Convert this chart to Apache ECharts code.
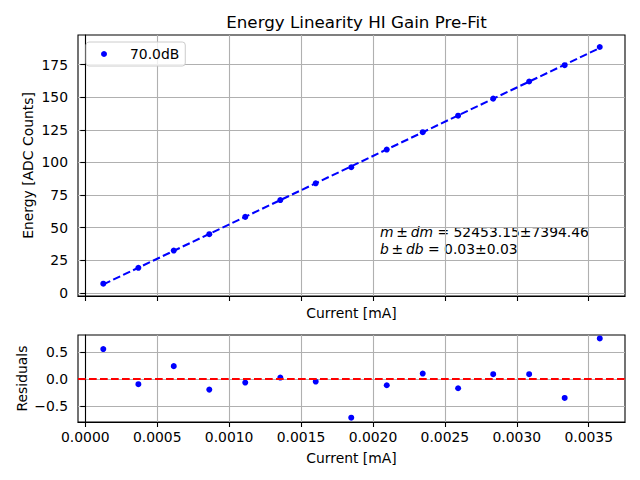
<!DOCTYPE html>
<html>
<head>
<meta charset="utf-8">
<script src="https://cdn.jsdelivr.net/npm/echarts@6/dist/echarts.min.js"></script>
<style>html,body{margin:0;padding:0;background:#fff}#c{width:640px;height:480px}</style>
</head>
<body>
<div id="c"></div>
<script>
// Data
const currents = [0.000125, 0.000369, 0.000615, 0.000862, 0.001112, 0.001356, 0.001602, 0.001849, 0.002096, 0.002346, 0.002592, 0.002836, 0.003086, 0.003333, 0.003577];
const energies = [7.14, 19.29, 32.52, 45.05, 58.29, 71.18, 84.01, 96.30, 109.85, 123.18, 135.81, 148.87, 161.99, 174.50, 188.41];
const residuals = [0.553, -0.099, 0.236, -0.199, -0.068, 0.025, -0.05, -0.72, -0.118, 0.099, -0.174, 0.087, 0.087, -0.354, 0.75];
const fitX = [0.000125, 0.003577];
const fitY = [6.59, 187.65];
const xTicks = [0, 0.0005, 0.001, 0.0015, 0.002, 0.0025, 0.003, 0.0035];
const yTicks = [0, 25, 50, 75, 100, 125, 150, 175];
const resTicks = [-0.5, 0, 0.5];
const seriesName = '70.0dB';
const titleText = 'Energy Linearity HI Gain Pre-Fit';
const fitLines = ['m', '\u2009\u00b1\u2009', 'dm', ' = 52453.15\u00b17394.46'];
const fitLines2 = ['b', '\u2009\u00b1\u2009', 'db', ' = 0.03\u00b10.03'];

const FONT = 'DejaVu Sans';
const FS = 13.9;
const chart = echarts.init(document.getElementById('c'), null, {renderer: 'svg'});

function xAxisCfg(grid, showLabel, nameGap) {
  return {
    type: 'value', gridIndex: grid, min: -0.0000508, max: 0.0037524,
    name: 'Current [mA]', nameLocation: 'middle', nameGap: nameGap,
    nameTextStyle: {fontFamily: FONT, fontSize: FS, color: '#000'},
    axisLine: {show: true, onZero: false, lineStyle: {color: '#000', width: 1.1}},
    axisTick: {show: true, length: 5, customValues: xTicks, lineStyle: {color: '#000', width: 1.1}},
    axisLabel: {show: showLabel, customValues: xTicks, margin: 8, color: '#000', fontFamily: FONT, fontSize: FS,
      formatter: v => v.toFixed(4)},
    splitLine: {show: true, lineStyle: {color: '#b0b0b0', width: 1.1}}
  };
}

const option = {
  animation: false,
  backgroundColor: '#fff',
  title: {
    text: titleText, left: 351.5, top: 8, textAlign: 'center',
    textStyle: {fontFamily: FONT, fontSize: 16.7, fontWeight: 'normal', color: '#000'}
  },
  legend: {
    data: [seriesName], left: 86, top: 42, icon: 'circle', itemWidth: 6, itemHeight: 6,
    padding: [5, 6, 5, 15], borderColor: '#cccccc', borderWidth: 1, borderRadius: 3,
    backgroundColor: 'rgba(255,255,255,0.8)',
    textStyle: {fontFamily: FONT, fontSize: FS, color: '#000', padding: [0, 0, 0, 18]}
  },
  grid: [
    {left: 78, right: 15, top: 35, height: 261, show: true, borderColor: '#000', borderWidth: 1.1, backgroundColor: 'transparent'},
    {left: 78, right: 15, top: 335, height: 87, show: true, borderColor: '#000', borderWidth: 1.1, backgroundColor: 'transparent'}
  ],
  xAxis: [xAxisCfg(0, false, 10), xAxisCfg(1, true, 29)],
  yAxis: [
    {
      type: 'value', gridIndex: 0, min: -2.3, max: 197.6,
      name: 'Energy [ADC Counts]', nameLocation: 'middle', nameGap: 43, nameMoveOverlap: false,
      nameTextStyle: {fontFamily: FONT, fontSize: FS, color: '#000'},
      axisLine: {show: true, lineStyle: {color: '#000', width: 1.1}},
      axisTick: {show: true, length: 5, customValues: yTicks, lineStyle: {color: '#000', width: 1.1}},
      axisLabel: {customValues: yTicks, margin: 10, color: '#000', fontFamily: FONT, fontSize: FS, formatter: v => String(Math.round(v))},
      splitLine: {show: true, lineStyle: {color: '#b0b0b0', width: 1.1}}
    },
    {
      type: 'value', gridIndex: 1, min: -0.80, max: 0.814,
      name: 'Residuals', nameLocation: 'middle', nameGap: 49.5, nameMoveOverlap: false,
      nameTextStyle: {fontFamily: FONT, fontSize: FS, color: '#000'},
      axisLine: {show: true, lineStyle: {color: '#000', width: 1.1}},
      axisTick: {show: true, length: 5, customValues: resTicks, lineStyle: {color: '#000', width: 1.1}},
      axisLabel: {customValues: resTicks, margin: 10, color: '#000', fontFamily: FONT, fontSize: FS,
        formatter: v => (v < 0 ? '\u2212' : '') + Math.abs(v).toFixed(1)},
      splitLine: {show: true, lineStyle: {color: '#b0b0b0', width: 1.1}}
    }
  ],
  series: [
    {
      name: seriesName, type: 'scatter', xAxisIndex: 0, yAxisIndex: 0,
      symbol: 'circle', symbolSize: 6, itemStyle: {color: '#0000ff', opacity: 1},
      data: currents.map((c, i) => [c, energies[i]]), z: 3
    },
    {
      name: 'fit', type: 'line', xAxisIndex: 0, yAxisIndex: 0, showSymbol: false, symbol: 'none',
      lineStyle: {color: '#0000ff', width: 2.08, type: [7.7, 3.3]},
      data: fitX.map((x, i) => [x, fitY[i]]), z: 4
    },
    {
      name: 'res', type: 'scatter', xAxisIndex: 1, yAxisIndex: 1,
      symbol: 'circle', symbolSize: 6, itemStyle: {color: '#0000ff', opacity: 1},
      data: currents.map((c, i) => [c, residuals[i]]),
      markLine: {
        silent: true, symbol: 'none', label: {show: false},
        lineStyle: {color: '#ff0000', width: 2.08, type: [7.7, 3.3]},
        data: [{yAxis: 0}]
      }
    }
  ],
  graphic: [
    {
      type: 'text', left: 380, top: 223,
      style: {
        text: '{i|' + fitLines[0] + '}' + fitLines[1] + '{i|' + fitLines[2] + '}' + fitLines[3] + '\n' +
              '{i|' + fitLines2[0] + '}' + fitLines2[1] + '{i|' + fitLines2[2] + '}' + fitLines2[3],
        fontFamily: FONT, fontSize: FS, fill: '#000', lineHeight: 17,
        rich: {i: {fontStyle: 'italic', fontFamily: FONT, fontSize: FS, fill: '#000', lineHeight: 17}}
      }
    }
  ]
};
chart.setOption(option);
</script>
</body>
</html>
